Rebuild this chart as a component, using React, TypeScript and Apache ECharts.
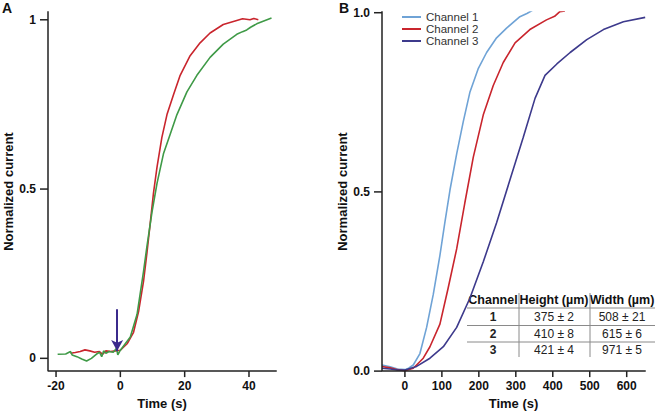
import React, { useEffect, useRef } from "react";
import * as echarts from "echarts";

// ---------- Panel A data: [time (s), normalized current] ----------
const redA: number[][] = [
  [-15.5, 0.015], [-14, 0.017], [-12.5, 0.02], [-11, 0.025], [-9.5, 0.022], [-8, 0.018],
  [-6.5, 0.02], [-5.5, 0.012], [-4.5, 0.022], [-3, 0.02], [-1.5, 0.022], [0, 0.024],
  [2.1, 0.043], [4.1, 0.077], [5.7, 0.14], [7.2, 0.227], [8.3, 0.314], [9.3, 0.4],
  [10.3, 0.488], [11.4, 0.565], [12.9, 0.652], [14.5, 0.72], [16.5, 0.778], [18.6, 0.836],
  [21.7, 0.894], [24.8, 0.932], [27.9, 0.961], [32, 0.986], [36.2, 0.998], [38, 1.003],
  [40.3, 1.0], [41.5, 1.004], [42.9, 1.0],
];
const greenA: number[][] = [
  [-19.5, 0.012], [-17, 0.013], [-15.5, 0.02], [-15, 0.01], [-13.5, 0.005], [-12, -0.002],
  [-10.5, -0.008], [-9, 0.0], [-7.5, 0.012], [-6.5, 0.018], [-5.8, 0.005], [-5.2, 0.022],
  [-4.5, 0.015], [-3.5, 0.02], [-2.2, 0.018], [-1.2, 0.03], [-0.8, 0.01], [0, 0.024],
  [3.1, 0.063], [5.2, 0.13], [7.2, 0.256], [8.3, 0.333], [9.8, 0.43], [11.4, 0.517],
  [13.4, 0.604], [15.5, 0.662], [17.6, 0.72], [20.7, 0.787], [23.8, 0.836], [27.9, 0.889],
  [32, 0.928], [36.2, 0.957], [38, 0.965], [39.3, 0.97], [40.5, 0.978], [42.4, 0.988], [47, 1.005],
];
const arrowTime = -1;
const arrowTop = 0.145;
const arrowTip = 0.022;
const ticksAx = [-20, 0, 20, 40];
const ticksAy = [0, 0.5, 1];
const rangeAx = [-22.5, 48.4];
const rangeAy = [-0.0377, 1.023];

// ---------- Panel B data: [time (s), normalized current] ----------
const channel1: number[][] = [
  [-62, 0.017], [-40, 0.012], [-20, 0.006], [0, 0.004], [10, 0.008], [22.6, 0.017],
  [40.6, 0.049], [58.7, 0.122], [76.7, 0.214], [94.7, 0.323], [108, 0.414], [122, 0.506],
  [140, 0.606], [158, 0.697], [176, 0.779], [198, 0.843], [221, 0.889], [248, 0.93],
  [275, 0.957], [311, 0.989], [330, 0.998], [349, 1.009],
];
const channel2: number[][] = [
  [-62, 0.013], [-40, 0.009], [-20, 0.004], [0, 0.001], [22.6, 0.008], [49.6, 0.036],
  [67.7, 0.068], [94.7, 0.131], [117, 0.232], [140, 0.341], [162, 0.469], [185, 0.597],
  [212, 0.715], [239, 0.797], [266, 0.861], [298, 0.916], [338, 0.953], [383, 0.98],
  [405, 0.99], [419, 1.003], [433, 1.005],
];
const channel3: number[][] = [
  [-62, 0.008], [-40, 0.006], [-20, 0.003], [0, 0.003], [31.6, 0.013], [67.7, 0.036],
  [104, 0.068], [140, 0.122], [176, 0.204], [212, 0.305], [248, 0.414], [284, 0.533],
  [320, 0.652], [352, 0.761], [379, 0.825], [411, 0.857], [447, 0.889], [492, 0.925],
  [537, 0.953], [591, 0.975], [650, 0.987],
];
const channelNames = ["Channel 1", "Channel 2", "Channel 3"];
const ticksBx = [0, 100, 200, 300, 400, 500, 600];
const ticksBy = [0, 0.5, 1];
const rangeBx = [-62, 649.5];
const rangeBy = [0, 1.002];

// ---------- Table ----------
const tableHeaders = ["Channel", "Height (µm)", "Width (µm)"];
const tableChannels = ["1", "2", "3"];
const tableHeights = ["375 ± 2", "410 ± 8", "421 ± 4"];
const tableWidths = ["508 ± 21", "615 ± 6", "971 ± 5"];

const FONT = "'Liberation Sans', Arial, Helvetica, sans-serif";
const AXIS_COLOR = "#222";
const RED = "#c9252d";
const GREEN = "#3f9a47";
const BLUE = "#6fa3d6";
const PURPLE = "#3d3a8c";
const ARROW = "#3b2a8c";

function axisOpt(
  gridIndex: number,
  range: number[],
  ticks: number[],
  name: string,
  nameGap: number,
  labelMargin: number,
  fmt?: (v: number) => string
) {
  const axisLabel: any = {
    customValues: ticks,
    margin: labelMargin,
    fontFamily: FONT,
    fontSize: 12,
    fontWeight: "bold",
    color: "#111",
  };
  if (fmt) axisLabel.formatter = fmt;
  return {
    type: "value",
    gridIndex,
    min: range[0],
    max: range[1],
    name,
    nameLocation: "middle",
    nameGap,
    nameTextStyle: { fontFamily: FONT, fontSize: 13, fontWeight: "bold", color: "#111" },
    axisLine: { show: false },
    axisTick: { show: false },
    axisLabel,
    splitLine: { show: false },
  };
}

function buildTable() {
  const els: any[] = [];
  const colCenters = [493, 554, 622];
  const rowY = [299.5, 316.7, 333.5, 350];
  const hLines = [308, 325.5, 342];
  const vLines = [519, 590];
  tableHeaders.forEach((h, i) => {
    els.push({
      type: "text",
      x: colCenters[i],
      y: rowY[0],
      style: { text: h, fontFamily: FONT, fontSize: 12.5, fontWeight: "bold", fill: "#111", align: "center", verticalAlign: "middle" },
    });
  });
  tableChannels.forEach((c, r) => {
    const cells = [c, tableHeights[r], tableWidths[r]];
    cells.forEach((t, i) => {
      els.push({
        type: "text",
        x: colCenters[i],
        y: rowY[r + 1],
        style: {
          text: t,
          fontFamily: FONT,
          fontSize: 12,
          fontWeight: i === 0 ? "bold" : "normal",
          fill: "#222",
          align: "center",
          verticalAlign: "middle",
        },
      });
    });
  });
  hLines.forEach((y) => {
    els.push({ type: "line", shape: { x1: 467, y1: y, x2: 655, y2: y }, style: { stroke: "#8a8a8a", lineWidth: 1 } });
  });
  vLines.forEach((x) => {
    els.push({ type: "line", shape: { x1: x, y1: 293, x2: x, y2: 357 }, style: { stroke: "#8a8a8a", lineWidth: 1 } });
  });
  return els;
}

// Axis frame (left + bottom) and tick marks, drawn as series through the chart's scales.
function axisSeries(idx: number, xr: number[], yr: number[], xt: number[], yt: number[]) {
  return [
    {
      name: "axis-frame-" + idx,
      type: "line",
      xAxisIndex: idx,
      yAxisIndex: idx,
      data: [[xr[0], yr[1]], [xr[0], yr[0]], [xr[1], yr[0]]],
      showSymbol: false,
      symbol: "none",
      clip: false,
      silent: true,
      lineStyle: { color: AXIS_COLOR, width: 1.5, cap: "square" },
      z: 5,
    },
    {
      name: "x-ticks-" + idx,
      type: "scatter",
      xAxisIndex: idx,
      yAxisIndex: idx,
      data: xt.map((t) => [t, yr[0]]),
      symbol: "rect",
      symbolSize: [1.5, 6],
      symbolOffset: [0, 3],
      clip: false,
      silent: true,
      itemStyle: { color: AXIS_COLOR, opacity: 1 },
      z: 5,
    },
    {
      name: "y-ticks-" + idx,
      type: "scatter",
      xAxisIndex: idx,
      yAxisIndex: idx,
      data: yt.map((v) => [xr[0], v]),
      symbol: "rect",
      symbolSize: [8, 1.5],
      symbolOffset: [-4, 0],
      clip: false,
      silent: true,
      itemStyle: { color: AXIS_COLOR, opacity: 1 },
      z: 5,
    },
  ];
}

export default function App() {
  const ref = useRef<HTMLDivElement>(null);
  useEffect(() => {
    if (!ref.current) return;
    const chart = echarts.init(ref.current, null, { renderer: "svg" });
    const lineSeries = (name: string, data: number[][], color: string, idx: number, extra: any = {}) => ({
      name,
      type: "line",
      xAxisIndex: idx,
      yAxisIndex: idx,
      data,
      showSymbol: false,
      symbol: "none",
      lineStyle: { color, width: 1.6 },
      itemStyle: { color },
      ...extra,
    });
    chart.setOption({
      animation: false,
      grid: [
        { left: 48, top: 12, width: 228, height: 366 },
        { left: 382, top: 12, width: 263, height: 366 },
      ],
      xAxis: [
        axisOpt(0, rangeAx, ticksAx, "Time (s)", 21, 9),
        axisOpt(1, rangeBx, ticksBx, "Time (s)", 21, 9),
      ],
      yAxis: [
        axisOpt(0, rangeAy, ticksAy, "Normalized current", 33, 12, (v: number) => String(v)),
        axisOpt(1, rangeBy, ticksBy, "Normalized current", 33, 12, (v: number) => v.toFixed(1)),
      ],
      legend: {
        data: channelNames,
        left: 397,
        top: 6,
        orient: "vertical",
        icon: "rect",
        itemWidth: 19,
        itemHeight: 2,
        itemGap: 0,
        textStyle: { fontFamily: FONT, fontSize: 11.5, color: "#333", lineHeight: 10 },
      },
      series: [
        lineSeries("Trace 1", redA, RED, 0),
        lineSeries("Trace 2", greenA, GREEN, 0, {
          markLine: {
            silent: true,
            symbol: ["none", "arrow"],
            symbolSize: [9, 11],
            label: { show: false },
            lineStyle: { color: ARROW, width: 2, type: "solid" },
            data: [[{ coord: [arrowTime, arrowTop] }, { coord: [arrowTime, arrowTip] }]],
          },
        }),
        lineSeries(channelNames[0], channel1, BLUE, 1),
        lineSeries(channelNames[1], channel2, RED, 1),
        lineSeries(channelNames[2], channel3, PURPLE, 1),
        ...axisSeries(0, rangeAx, rangeAy, ticksAx, ticksAy),
        ...axisSeries(1, rangeBx, rangeBy, ticksBx, ticksBy),
      ],
      graphic: [
        { type: "text", x: 2, y: 1, style: { text: "A", fontFamily: FONT, fontSize: 14, fontWeight: "bold", fill: "#111" } },
        { type: "text", x: 339, y: 1, style: { text: "B", fontFamily: FONT, fontSize: 14, fontWeight: "bold", fill: "#111" } },
        ...buildTable(),
      ],
    });
    return () => chart.dispose();
  }, []);
  return <div ref={ref} style={{ position: "fixed", left: 0, top: 0, width: 655, height: 415, background: "#fff" }} />;
}
